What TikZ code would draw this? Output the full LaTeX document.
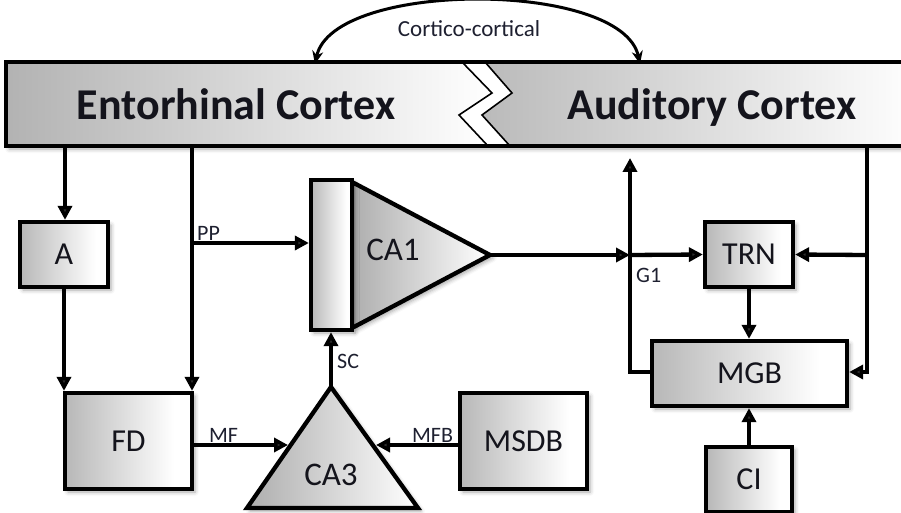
\documentclass[tikz,border=0pt]{standalone}
\usepackage{fontspec}
\setmainfont{Carlito}
\usetikzlibrary{arrows.meta,shadows.blur}
\pgfdeclarehorizontalshading{boxgrad}{100bp}{rgb(0bp)=(.66,.66,.66); rgb(22bp)=(.70,.70,.70); rgb(68bp)=(1,1,1); rgb(78bp)=(1,1,1); rgb(100bp)=(.84,.84,.84)}
\definecolor{labc}{RGB}{30,32,48}
\definecolor{txtc}{RGB}{20,20,28}
\begin{document}
\begin{tikzpicture}[x=1pt,y=-1pt,line width=4.3pt,
  shad/.style={blur shadow={shadow xshift=3pt,shadow yshift=-3pt,shadow blur radius=4pt,shadow opacity=35}},
  blk/.style={draw,shade,shading=boxgrad,shad,inner sep=0pt,text=txtc,font=\fontsize{32}{32}\selectfont},
  arr/.style={-{Triangle[length=14pt,width=14pt]}},
  lbl/.style={inner sep=0pt,text=labc,font=\fontsize{22}{22}\selectfont},
  big/.style={inner sep=0pt,text=txtc,font=\bfseries\fontsize{44}{44}\selectfont}]
\useasboundingbox (0,0) rectangle (901,513);
\clip (0,0) rectangle (901,513);
% cortex bar
\fill[white,shad] (6,62) rectangle (920,146);
\shade[left color=black!30,right color=white] (6,62) -- (462,62) -- (492,93) -- (459,115) -- (488,146) -- (6,146) -- cycle;
\shade[left color=black!27,right color=white] (485,62) -- (920,62) -- (920,146) -- (510,146) -- (482,115) -- (512,93) -- cycle;
\draw (920,62) -- (6,62) -- (6,146) -- (920,146);
\draw[line width=1.6pt,line join=miter] (462,62) -- (492,93) -- (459,115) -- (488,146);
\draw[line width=1.6pt,line join=miter] (485,62) -- (512,93) -- (482,115) -- (510,146);
\node[big,anchor=base] (ent) at (236,120) {Entorhinal Cortex};
\node[big,anchor=base] (aud) at (712,120) {Auditory Cortex};
% cortico-cortical arc
\coordinate (cl) at (315,64);
\coordinate (cr) at (640,64);
\draw[line width=3pt,{Stealth[length=13pt,width=11pt]}-{Stealth[length=13pt,width=11pt]}] (cl) .. controls (333,-20) and (622,-20) .. (cr);
\node[lbl,anchor=base,font=\fontsize{23}{23}\selectfont] (cc) at (469,37) {Cortico-cortical};
% boxes
\node[blk,minimum width=88pt,minimum height=65pt] (A) at (64,254.5) {A};
\node[blk,minimum width=127pt,minimum height=96pt] (FD) at (128.5,441) {FD};
\node[blk,minimum width=127pt,minimum height=96pt] (MSDB) at (523.5,441) {MSDB};
\node[blk,minimum width=88pt,minimum height=65pt] (TRN) at (749,254.5) {TRN};
\node[blk,minimum width=195pt,minimum height=65pt] (MGB) at (749.5,373.5) {MGB};
\node[blk,minimum width=86pt,minimum height=65pt] (CI) at (749,479.5) {CI};
% CA1
\coordinate (ca1t) at (352,182);
\coordinate (ca1b) at (352,328);
\coordinate (ca1a) at (490,255);
\path[draw,shade,left color=black!32,right color=white,shad,line join=miter] (ca1t) -- (ca1a) -- (ca1b) -- cycle;
\node[blk,minimum width=41pt,minimum height=150pt] (ca1r) at (331.5,255) {};
\node[inner sep=0pt,text=txtc,font=\fontsize{33}{33}\selectfont] (ca1l) at (393,250) {CA1};
% CA3
\coordinate (ca3a) at (331,387);
\coordinate (ca3l) at (247,508);
\coordinate (ca3r) at (418,508);
\path[draw,shade,left color=black!32,right color=white,shad,line join=miter] (ca3a) -- (ca3r) -- (ca3l) -- cycle;
\node[inner sep=0pt,text=txtc,font=\fontsize{33}{33}\selectfont] (ca3lab) at (331,475) {CA3};
% connectors left
\coordinate (atop) at (65,148);
\draw[arr] (atop) -- (atop |- A.north);
\draw[arr] (A.south) -- (A.south |- FD.north);
\coordinate (pptop) at (192,146);
\coordinate (ppj) at (192,243);
\draw[arr] (pptop) -- (pptop |- FD.north);
\draw[arr] (ppj) -- (ppj -| ca1r.west);
\node[lbl,anchor=base west] (pp) at (195,240) {PP};
\coordinate (mfe) at (288,445);
\draw[arr] (FD.east |- mfe) -- (mfe);
\node[lbl,anchor=base west] (mf) at (207,442) {MF};
\coordinate (mfbe) at (376,445);
\draw[arr] (MSDB.west |- mfbe) -- (mfbe);
\node[lbl,anchor=base west] (mfb) at (410,442) {MFB};
\draw[arr] (ca3a) -- (ca3a |- ca1r.south);
\node[lbl,anchor=base west] (sc) at (335,368) {SC};
% connectors right
\coordinate (gmid) at (630,255);
\coordinate (gtop) at (630,158);
\coordinate (gbot) at (630,372);
\draw[arr] (ca1a) -- (gmid);
\draw[arr] (gmid) -- (TRN.west);
\draw[arr] (MGB.west |- gbot) -- (gbot) -- (gtop);
\node[lbl,anchor=base west] (g1) at (634,282) {G1};
\coordinate (rtop) at (867,148);
\coordinate (rmid) at (867,255);
\coordinate (rbot) at (867,372);
\draw[arr] (rtop) -- (rbot) -- (MGB.east |- rbot);
\draw[arr] (rmid) -- (TRN.east);
\draw[arr] (TRN.south) -- (MGB.north -| TRN.south);
\draw[arr] (CI.north) -- (MGB.south -| CI.north);
\end{tikzpicture}
\end{document}
